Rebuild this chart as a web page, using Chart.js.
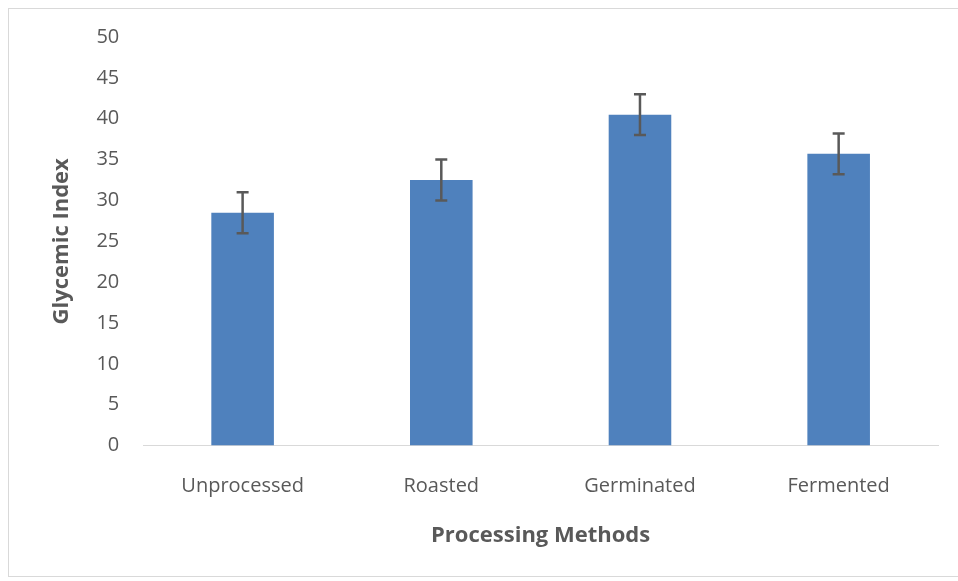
<!DOCTYPE html>
<html>
<head>
<meta charset="utf-8">
<script src="https://cdn.jsdelivr.net/npm/chart.js@4/dist/chart.umd.min.js"></script>
<style>
  html, body { margin: 0; padding: 0; background: #fff; }
  #wrap { position: absolute; left: 0; top: 0; width: 958px; height: 581px; }
  #frame { position: absolute; left: 8px; top: 8px; width: 960px; height: 569px; border: 1px solid #d9d9d9; box-sizing: border-box; }
</style>
</head>
<body>
<div id="frame"></div>
<div id="wrap"><canvas id="c" width="958" height="581"></canvas></div>
<script>
const categories = ["Unprocessed", "Roasted", "Germinated", "Fermented"];
const glycemicIndex = [28.5, 32.5, 40.5, 35.7];
const errorValues = [2.5, 2.5, 2.5, 2.5];
const yTicks = [0, 5, 10, 15, 20, 25, 30, 35, 40, 45, 50];

const FONT = "'Open Sans', 'Liberation Sans', sans-serif";

const errorBarPlugin = {
  id: 'errorBars',
  afterDatasetsDraw(chart) {
    const ctx = chart.ctx;
    const meta = chart.getDatasetMeta(0);
    const y = chart.scales.y;
    ctx.save();
    ctx.strokeStyle = '#595959';
    ctx.lineWidth = 2.5;
    meta.data.forEach((bar, i) => {
      const x = bar.x;
      const top = y.getPixelForValue(glycemicIndex[i] + errorValues[i]);
      const bot = y.getPixelForValue(glycemicIndex[i] - errorValues[i]);
      ctx.beginPath();
      ctx.moveTo(x, top); ctx.lineTo(x, bot);
      ctx.moveTo(x - 6, top); ctx.lineTo(x + 6, top);
      ctx.moveTo(x - 6, bot); ctx.lineTo(x + 6, bot);
      ctx.stroke();
    });
    ctx.restore();
  }
};

new Chart(document.getElementById('c'), {
  type: 'bar',
  data: {
    labels: categories,
    datasets: [{
      data: glycemicIndex,
      backgroundColor: '#4F81BD',
      borderWidth: 0,
      categoryPercentage: 1.0,
      barPercentage: 0.315
    }]
  },
  options: {
    responsive: false,
    animation: false,
    layout: { padding: { left: 49, right: 20, top: 37, bottom: 32 } },
    plugins: { legend: { display: false }, tooltip: { enabled: false } },
    scales: {
      x: {
        grid: { display: false, drawTicks: false },
        border: { display: true, color: '#d9d9d9', width: 1 },
        ticks: { color: '#595959', font: { family: FONT, size: 20 }, padding: 29 },
        title: { display: true, text: 'Processing Methods', color: '#595959',
                 font: { family: FONT, size: 22, weight: 'bold' }, padding: { top: -5, bottom: 0 } }
      },
      y: {
        min: 0, max: 50,
        afterBuildTicks(axis) { axis.ticks = yTicks.map(v => ({ value: v })); },
        grid: { display: false, drawTicks: false },
        border: { display: false },
        ticks: { color: '#595959', font: { family: FONT, size: 20 }, padding: 24 },
        title: { display: true, text: 'Glycemic Index', color: '#595959',
                 font: { family: FONT, size: 22, weight: 'bold' }, padding: { top: 0, bottom: -3 } }
      }
    }
  },
  plugins: [errorBarPlugin]
});
</script>
</body>
</html>
